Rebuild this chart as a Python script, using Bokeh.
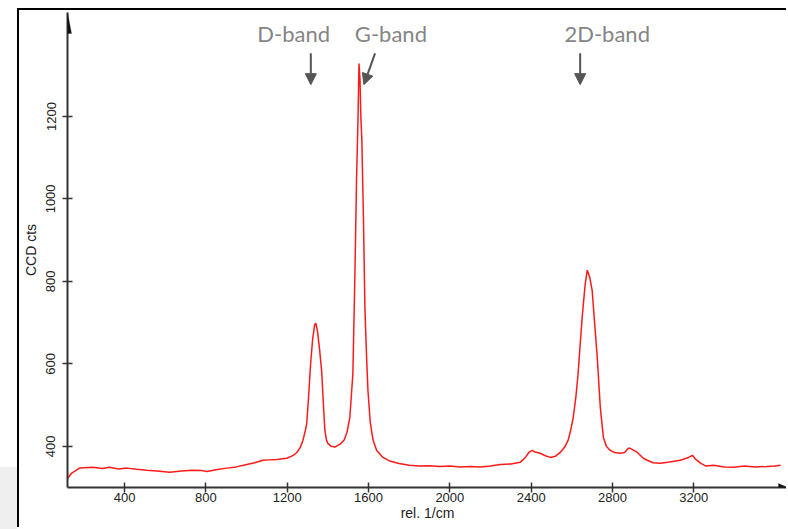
from bokeh.plotting import figure
from bokeh.layouts import row
from bokeh.models import (Range1d, FixedTicker, Label, Arrow, NormalHead, PolyAnnotation, Spacer)
from bokeh.embed import file_html
from bokeh.resources import INLINE

# ---- data ----
shift = [119, 140, 178, 242, 290, 326, 370, 410, 460, 508, 560, 622, 680, 735, 780, 804,
         850, 902, 950, 1001, 1040, 1080, 1110, 1150, 1198, 1230, 1247, 1265, 1277, 1290,
         1296, 1305, 1315, 1325, 1335, 1341, 1350, 1360, 1370, 1378, 1385, 1393, 1400, 1415,
         1434, 1460, 1480, 1494, 1508, 1523, 1533, 1541, 1548, 1553, 1558, 1562, 1567, 1575,
         1582, 1590, 1597, 1608, 1622, 1640, 1671, 1700, 1750, 1800, 1850, 1900, 1950, 2000,
         2050, 2100, 2150, 2200, 2247, 2300, 2346, 2370, 2390, 2405, 2420, 2444, 2470, 2494,
         2520, 2543, 2565, 2582, 2595, 2607, 2620, 2631, 2640, 2651, 2665, 2676, 2688, 2700,
         2712, 2725, 2740, 2755, 2770, 2789, 2810, 2838, 2860, 2878, 2888, 2905, 2922, 2952,
         2971, 3000, 3035, 3080, 3134, 3170, 3193, 3210, 3233, 3260, 3297, 3350, 3395, 3450,
         3500, 3560, 3600, 3627]
counts = [322, 335, 347, 349, 346, 349, 345, 347, 344, 342, 340, 337, 340, 342, 341, 339,
          343, 347, 350, 356, 360, 366, 367, 368, 371, 378, 385, 398, 414, 440,
          456, 520, 600, 660, 695, 698, 675, 630, 577, 500, 439, 415, 407, 400,
          398, 405, 415, 434, 470, 577, 819, 1050, 1190, 1328, 1290, 1200, 1142, 950,
          737, 620, 536, 460, 415, 390, 373, 365, 358, 354, 352, 353, 351, 352,
          350, 351, 350, 352, 356, 357, 361, 372, 386, 390, 386, 383, 377, 373,
          376, 385, 398, 415, 440, 470, 520, 577, 640, 713, 790, 827, 810, 778,
          700, 616, 495, 422, 400, 390, 385, 383, 385, 395, 395, 390, 385, 371,
          366, 360, 359, 362, 366, 372, 378, 368, 359, 352, 354, 350, 349, 352,
          350, 351, 352, 354]

x_ticks = [400, 800, 1200, 1600, 2000, 2400, 2800, 3200]
y_ticks = [400, 600, 800, 1000, 1200]
x_title = "rel. 1/cm"
y_title = "CCD cts"

band_names = ["D-band", "G-band", "2D-band"]
band_label_x = [1232, 1710, 2774]
band_label_y = 1400
band_arrow_start = [(1316, 1353), (1632, 1353), (2641, 1353)]
band_arrow_end = [(1316, 1277), (1577, 1277), (2641, 1277)]

X0, X1 = 119, 3661
Y0, Y1 = 300, 1452
W, H = 769, 519

p = figure(width=W, height=H, output_backend="svg", toolbar_location=None,
           x_range=Range1d(X0, X1), y_range=Range1d(Y0, Y1),
           min_border_left=48, min_border_top=2, min_border_right=1, min_border_bottom=42)
p.styles = {"margin-top": "8px", "border-left": "2px solid black", "border-top": "2px solid black"}
p.outline_line_color = None
p.grid.visible = False
p.background_fill_color = "white"
p.border_fill_color = "white"

p.line(shift, counts, line_color="#ff1a1a", line_width=1.5)

for ax in (p.xaxis[0], p.yaxis[0]):
    ax.axis_line_color = "#333333"
    ax.axis_line_width = 2
    ax.major_tick_line_color = "#333333"
    ax.major_tick_line_width = 1.5
    ax.major_tick_in = 5
    ax.major_tick_out = 5
    ax.minor_tick_line_color = None
    ax.major_label_text_font = "Liberation Sans"
    ax.major_label_text_font_size = "13px"
    ax.major_label_text_color = "#222222"
    ax.axis_label_text_font = "Liberation Sans"
    ax.axis_label_text_font_size = "14px"
    ax.axis_label_text_font_style = "normal"
    ax.axis_label_text_color = "#222222"

p.xaxis.ticker = FixedTicker(ticks=x_ticks)
p.yaxis.ticker = FixedTicker(ticks=y_ticks)
p.xaxis.axis_label = x_title
p.yaxis.axis_label = y_title
p.xaxis.major_label_standoff = 0
p.xaxis.axis_label_standoff = 0
p.yaxis.major_label_orientation = "vertical"
p.yaxis.major_label_standoff = 7
p.yaxis.axis_label_standoff = 5

ux = (X1 - X0) / 719.0   # data units per pixel (x)
uy = (Y1 - Y0) / 475.0   # data units per pixel (y)

# axis arrow heads
p.add_layout(PolyAnnotation(xs=[X0, X0 - 4 * ux, X0 + 4 * ux], ys=[Y1, Y1 - 21 * uy, Y1 - 21 * uy],
                            fill_color="#111111", fill_alpha=1, line_color="#111111", line_width=1))
p.add_layout(PolyAnnotation(xs=[X1, X1 - 9 * ux, X1 - 9 * ux], ys=[Y0, Y0 + 4 * uy, Y0 - 4 * uy],
                            fill_color="#111111", fill_alpha=1, line_color="#111111", line_width=1))

for name, lx, (sx, sy), (ex, ey) in zip(band_names, band_label_x, band_arrow_start, band_arrow_end):
    p.add_layout(Label(x=lx, y=band_label_y, text=name, text_align="center", text_baseline="alphabetic",
                       text_font="Lato", text_font_size="22px", text_color="#858585"))
    p.add_layout(Arrow(x_start=sx, y_start=sy, x_end=ex, y_end=ey, line_color="#555555", line_width=2,
                       end=NormalHead(size=11, fill_color="#555555", line_color="#555555")))

side = Spacer(width=17, height=529)
side.styles = {"background": "linear-gradient(to bottom, #ffffff 467px, #efefef 467px)"}
layout = row(side, p)
open("out.html", "w").write(file_html(layout, INLINE))
